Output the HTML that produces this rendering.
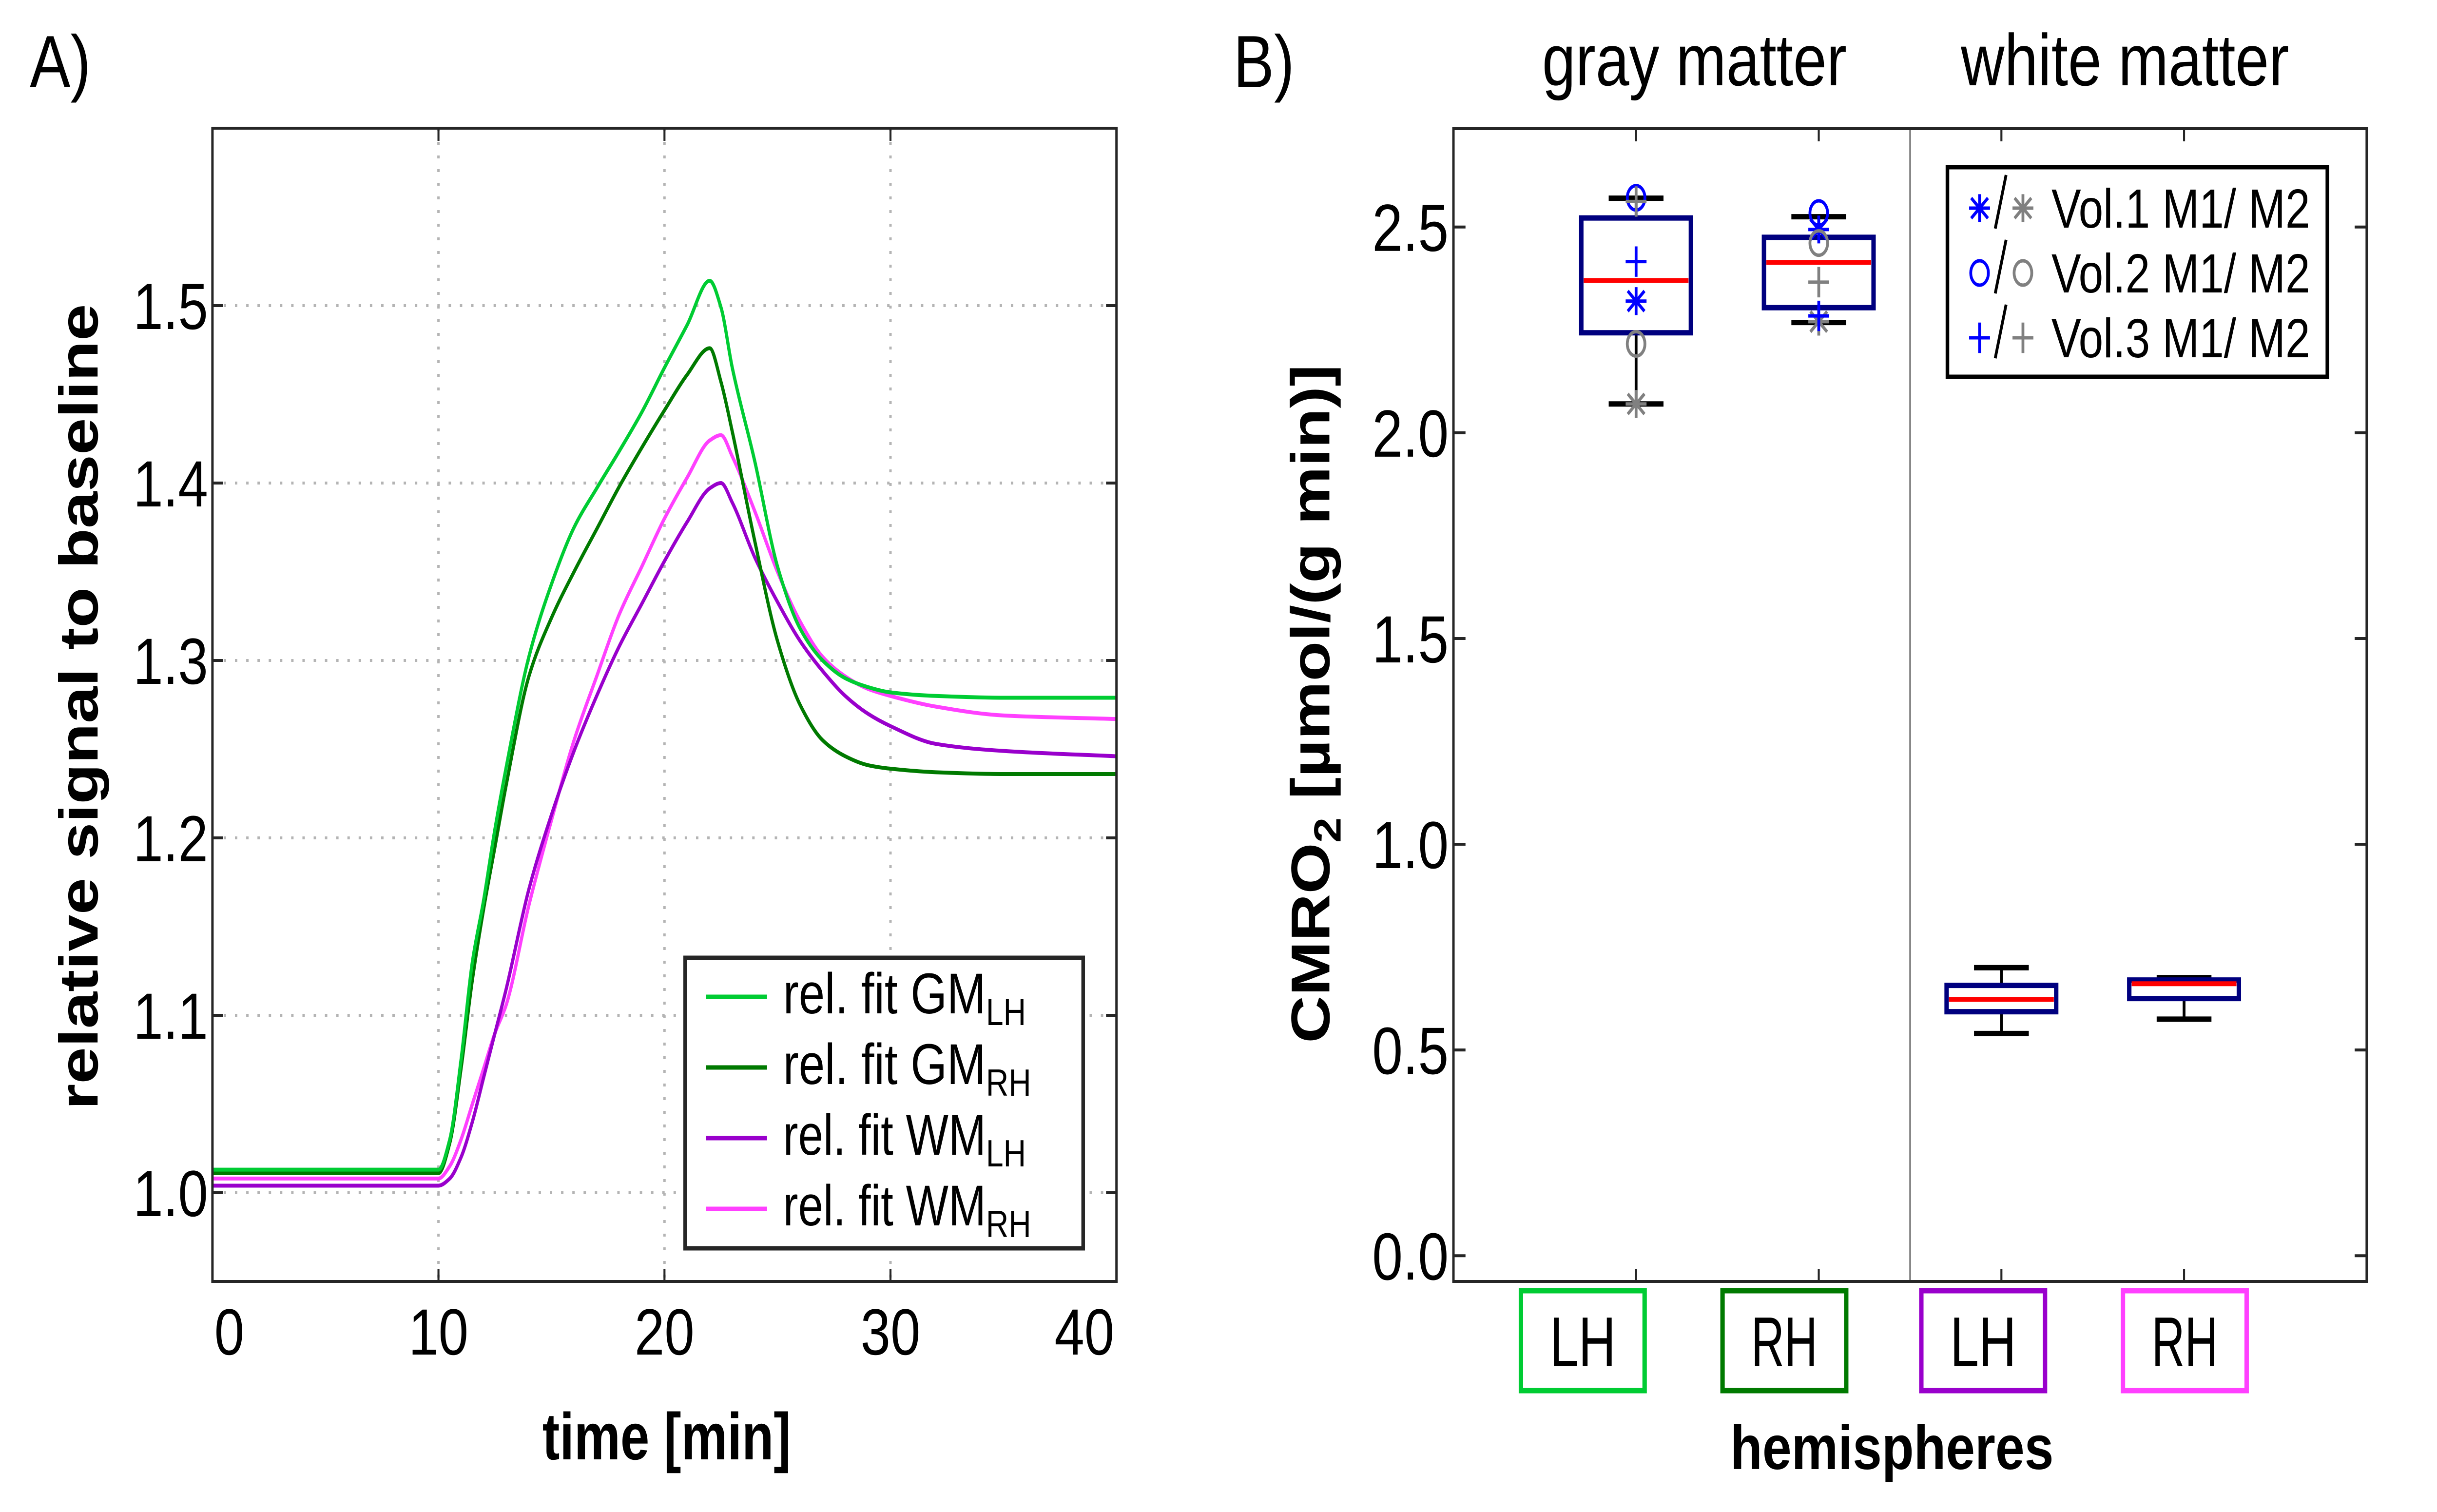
<!DOCTYPE html>
<html><head><meta charset="utf-8"><style>
html,body{margin:0;padding:0;background:#fff;overflow:hidden;width:100%;height:100%;}
svg{display:block;font-family:"Liberation Sans",Arial,sans-serif;width:100vw;height:100vh;}
</style></head><body>
<svg id="fig" viewBox="0 0 6068 3102" preserveAspectRatio="none" xmlns="http://www.w3.org/2000/svg">
<rect width="6068" height="3102" fill="#fff"/>
<text x="74" y="179" font-size="152">A)</text>
<text x="3071" y="179" font-size="152">B)</text>
<text x="4219" y="175" font-size="150" text-anchor="middle">gray matter</text>
<text x="5291" y="175" font-size="150" text-anchor="middle">white matter</text>
<text transform="translate(243,1450) rotate(-90)" font-size="136" font-weight="bold" text-anchor="middle" textLength="1653" lengthAdjust="spacingAndGlyphs">relative signal to baseline</text>
<text x="1660" y="2994" font-size="136" font-weight="bold" text-anchor="middle" textLength="619" lengthAdjust="spacingAndGlyphs">time [min]</text>
<text transform="translate(3310,1444) rotate(-90)" font-size="136" font-weight="bold" text-anchor="middle" textLength="1392" lengthAdjust="spacingAndGlyphs">CMRO<tspan font-size="95" dy="28">2</tspan><tspan dy="-28"> [µmol/(g min)]</tspan></text>
<text x="4711" y="3014" font-size="128" font-weight="bold" text-anchor="middle" textLength="805" lengthAdjust="spacingAndGlyphs">hemispheres</text>
<g id="gA"></g>
<g id="gB"></g>
</svg>
<script>
// ---------- Panel A data ----------
const times = [0,10,10.5,11,11.5,12,12.5,13,14,15,16,17,18,19,20,21,22,22.5,23,24,25,26,27,28,29,30,32,35,40];
const gmLH = [1.013,1.013,1.03,1.075,1.13,1.165,1.205,1.24,1.302,1.343,1.375,1.397,1.418,1.44,1.465,1.489,1.514,1.499,1.465,1.412,1.353,1.318,1.300,1.290,1.285,1.282,1.280,1.279,1.279];
const gmRH = [1.011,1.011,1.028,1.07,1.12,1.16,1.195,1.23,1.291,1.324,1.350,1.374,1.398,1.420,1.441,1.461,1.476,1.457,1.429,1.367,1.311,1.275,1.255,1.246,1.241,1.239,1.237,1.236,1.236];
const wmLH = [1.004,1.004,1.008,1.02,1.04,1.065,1.09,1.115,1.171,1.213,1.249,1.280,1.308,1.332,1.356,1.378,1.397,1.400,1.389,1.358,1.333,1.311,1.294,1.280,1.270,1.263,1.253,1.249,1.246];
const wmRH = [1.008,1.008,1.015,1.03,1.05,1.07,1.09,1.106,1.162,1.21,1.255,1.291,1.326,1.353,1.38,1.403,1.424,1.427,1.415,1.384,1.35,1.322,1.302,1.291,1.284,1.280,1.274,1.269,1.267];
const xTicksA = [0,10,20,30,40];
const yTicksA = [1.0,1.1,1.2,1.3,1.4,1.5];
const yTickLabelsA = ["1.0","1.1","1.2","1.3","1.4","1.5"];
const legendLabelsA = ["GM","GM","WM","WM"];
const legendSubsA = ["LH","RH","LH","RH"];
// ---------- Panel B data ----------
const categories = ["GM LH","GM RH","WM LH","WM RH"];
const catLabels = ["LH","RH","LH","RH"];
const boxQ1 = [2.243,2.304,0.593,0.625];
const boxMedian = [2.37,2.414,0.623,0.661];
const boxQ3 = [2.522,2.475,0.657,0.670];
const whiskLo = [2.07,2.268,0.54,0.575];
const whiskHi = [2.57,2.525,0.70,0.676];
const vol1M1 = [2.32,2.494];
const vol1M2 = [2.07,2.27];
const vol2M1 = [2.571,2.534];
const vol2M2 = [2.216,2.461];
const vol3M1 = [2.416,2.284];
const vol3M2 = [2.562,2.366];
const yTicksB = [0,0.5,1.0,1.5,2.0,2.5];
const yTickLabelsB = ["0.0","0.5","1.0","1.5","2.0","2.5"];

const NS="http://www.w3.org/2000/svg";
function mk(parent,tag,attrs,txt){const e=document.createElementNS(NS,tag);for(const k in attrs)e.setAttribute(k,attrs[k]);if(txt!==undefined)e.textContent=txt;parent.appendChild(e);return e;}

// ---------- Panel A ----------
const gA=document.getElementById('gA');
const A={l:529,r:2780,t:263,b:2629,x0:0,x1:40,y0:0.95,y1:1.6};
const xA=t=>A.l+(t-A.x0)/(A.x1-A.x0)*(A.r-A.l);
const yA=v=>A.b-(v-A.y0)/(A.y1-A.y0)*(A.b-A.t);
xTicksA.forEach((t,i)=>{
  if(t>0&&t<40){
    const g=mk(gA,'line',{x1:xA(t),x2:xA(t),y1:A.t,y2:A.b,stroke:'#b4b4b4','stroke-width':6,'stroke-dasharray':'6 22'});
    
    
  }
  const tk=mk(gA,'path',{d:`M${xA(t)} ${A.b}v-26M${xA(t)} ${A.t}v26`,stroke:'#262626','stroke-width':5});
  
  
  const lx = t===0 ? 571 : (t===40 ? 2700 : xA(t));
  const lb=mk(gA,'text',{x:lx,y:2779,'font-size':134,'text-anchor':'middle'},String(t));
  
  
});
yTicksA.forEach((v,i)=>{
  const g=mk(gA,'line',{x1:A.l,x2:A.r,y1:yA(v),y2:yA(v),stroke:'#b4b4b4','stroke-width':6,'stroke-dasharray':'6 22'});
  
  
  const tk=mk(gA,'path',{d:`M${A.l} ${yA(v)}h26M${A.r} ${yA(v)}h-26`,stroke:'#262626','stroke-width':6});
  
  
  const lb=mk(gA,'text',{x:518,y:yA(v)+48,'font-size':134,'text-anchor':'end'},yTickLabelsA[i]);
  
  
});
// monotone cubic (Fritsch-Carlson) path
function smooth(xs,ys){
  const n=xs.length, d=[], m=new Array(n);
  for(let i=0;i<n-1;i++) d.push((ys[i+1]-ys[i])/(xs[i+1]-xs[i]));
  m[0]=d[0]; m[n-1]=d[n-2];
  for(let i=1;i<n-1;i++){
    if(d[i-1]*d[i]<=0) m[i]=0;
    else { const h0=xs[i]-xs[i-1],h1=xs[i+1]-xs[i]; const w1=2*h1+h0,w2=h1+2*h0; m[i]=(w1+w2)/(w1/d[i-1]+w2/d[i]); }
  }
  let p=`M${xs[0]} ${ys[0]}`;
  for(let i=0;i<n-1;i++){
    const h=xs[i+1]-xs[i];
    p+=`C${xs[i]+h/3} ${ys[i]+m[i]*h/3} ${xs[i+1]-h/3} ${ys[i+1]-m[i+1]*h/3} ${xs[i+1]} ${ys[i+1]}`;
  }
  return p;
}
const seriesA=[[gmLH,'#00cc33','curve-gm-lh'],[gmRH,'#007a00','curve-gm-rh'],[wmLH,'#9900cc','curve-wm-lh'],[wmRH,'#ff40ff','curve-wm-rh']];
[3,2,1,0].forEach(k=>{
  const s=seriesA[k];
  const p=mk(gA,'path',{d:smooth(times.map(xA),s[0].map(yA)),fill:'none',stroke:s[1],'stroke-width':8,'stroke-linejoin':'round'});
  
  
});
const frA=mk(gA,'rect',{x:A.l,y:A.t,width:A.r-A.l,height:A.b-A.t,fill:'none',stroke:'#262626','stroke-width':6});


const lgA=mk(gA,'g',{});


mk(lgA,'rect',{x:1706,y:1965,width:991,height:596,fill:'#fff',stroke:'#262626','stroke-width':9});
const legY=[2045,2190,2335,2480];
seriesA.forEach((s,i)=>{
  const ln=mk(lgA,'line',{x1:1758,x2:1910,y1:legY[i],y2:legY[i],stroke:s[1],'stroke-width':9});
  
  
  const tx=mk(lgA,'text',{x:1950,y:legY[i]+34,'font-size':118});
  
  
  mk(tx,'tspan',{textLength:505,lengthAdjust:'spacingAndGlyphs'},'rel. fit '+legendLabelsA[i]);
  mk(tx,'tspan',{'font-size':78,dy:24},legendSubsA[i]);
});

// ---------- Panel B ----------
const gB=document.getElementById('gB');
const B={l:3619,r:5893,t:264,b:2629,x0:0,x1:5,y0:-0.0625,y1:2.739};
const xB=c=>B.l+(c-B.x0)/(B.x1-B.x0)*(B.r-B.l);
const yB=v=>B.b-(v-B.y0)/(B.y1-B.y0)*(B.b-B.t);
yTicksB.forEach((v,i)=>{
  const tk=mk(gB,'path',{d:`M${B.l} ${yB(v)}h30M${B.r} ${yB(v)}h-30`,stroke:'#262626','stroke-width':6});
  
  
  const lb=mk(gB,'text',{x:3607,y:yB(v)+49,'font-size':137,'text-anchor':'end'},yTickLabelsB[i]);
  
  
});
const div=mk(gB,'line',{x1:xB(2.5),x2:xB(2.5),y1:B.t,y2:B.b,stroke:'#777','stroke-width':4});


categories.forEach((c,i)=>{
  const cx=xB(i+1);
  const tk=mk(gB,'path',{d:`M${cx} ${B.b}v-26M${cx} ${B.t}v26`,stroke:'#262626','stroke-width':5});
  
  
  const g=mk(gB,'g',{});
  
  
  const hw=xB(0.3)-xB(0), cw=xB(0.15)-xB(0);
  mk(g,'line',{x1:cx,x2:cx,y1:yB(whiskHi[i]),y2:yB(boxQ3[i]),stroke:'#000','stroke-width':7});
  mk(g,'line',{x1:cx,x2:cx,y1:yB(boxQ1[i]),y2:yB(whiskLo[i]),stroke:'#000','stroke-width':7});
  mk(g,'line',{x1:cx-cw,x2:cx+cw,y1:yB(whiskHi[i]),y2:yB(whiskHi[i]),stroke:'#000','stroke-width':11});
  mk(g,'line',{x1:cx-cw,x2:cx+cw,y1:yB(whiskLo[i]),y2:yB(whiskLo[i]),stroke:'#000','stroke-width':11});
  mk(g,'rect',{x:cx-hw,y:yB(boxQ3[i]),width:2*hw,height:yB(boxQ1[i])-yB(boxQ3[i]),fill:'none',stroke:'#00007f','stroke-width':11});
  mk(g,'line',{x1:cx-hw+6,x2:cx+hw-6,y1:yB(boxMedian[i]),y2:yB(boxMedian[i]),stroke:'#ff0000','stroke-width':10});
});
function marker(parent,type,x,y,col){
  const s=26;
  let e;
  if(type==='star') e=mk(parent,'path',{d:`M${x-s} ${y}h${2*s}M${x} ${y-s*1.1}v${2.2*s}M${x-s*0.8} ${y-s*0.8}l${1.6*s} ${1.6*s}M${x+s*0.8} ${y-s*0.8}l${-1.6*s} ${1.6*s}`,stroke:col,'stroke-width':7,fill:'none'});
  else if(type==='circle') e=mk(parent,'ellipse',{cx:x,cy:y,rx:22,ry:25,stroke:col,'stroke-width':7,fill:'none'});
  else e=mk(parent,'path',{d:`M${x-s} ${y}h${2*s}M${x} ${y-s*1.2}v${2.4*s}`,stroke:col,'stroke-width':7,fill:'none'});
  return e;
}
const ptSets=[[vol1M1,'star','#0000ff','vol1-m1-point'],[vol1M2,'star','#808080','vol1-m2-point'],[vol2M1,'circle','#0000ff','vol2-m1-point'],[vol2M2,'circle','#808080','vol2-m2-point'],[vol3M1,'plus','#0000ff','vol3-m1-point'],[vol3M2,'plus','#808080','vol3-m2-point']];
ptSets.forEach(ps=>{
  ps[0].forEach((v,i)=>{
    const m=marker(gB,ps[1],xB(i+1),yB(v),ps[2]);
    
    
  });
});
const frB=mk(gB,'rect',{x:B.l,y:B.t,width:B.r-B.l,height:B.b-B.t,fill:'none',stroke:'#262626','stroke-width':6});


const catBoxX=[3781,4283,4778,5280];
const catCols=['#00cc33','#007a00','#9900cc','#ff40ff'];
catLabels.forEach((t,i)=>{
  const g=mk(gB,'g',{});
  
  
  mk(g,'rect',{x:catBoxX[i]+6,y:2648,width:308,height:205,fill:'none',stroke:catCols[i],'stroke-width':11});
  mk(g,'text',{x:catBoxX[i]+160,y:2803,'font-size':145,'text-anchor':'middle',textLength:165,lengthAdjust:'spacingAndGlyphs'},t);
});
const lgB=mk(gB,'g',{});


mk(lgB,'rect',{x:4849,y:343,width:946,height:430,fill:'#fff',stroke:'#000','stroke-width':9});
const lgTypes=['star','circle','plus'];
const lgText=['Vol.1 M1/ M2','Vol.2 M1/ M2','Vol.3 M1/ M2'];
const lgY=[427,560,693];
lgTypes.forEach((ty,i)=>{
  const e=mk(lgB,'g',{});
  
  
  marker(e,ty,4929,lgY[i],'#0000ff');
  mk(e,'line',{x1:4995,x2:4968,y1:lgY[i]-68,y2:lgY[i]+42,stroke:'#000','stroke-width':7});
  marker(e,ty,5037,lgY[i],'#808080');
  mk(e,'text',{x:5108,y:lgY[i]+40,'font-size':113,textLength:644,lengthAdjust:'spacingAndGlyphs'},lgText[i]);
});
</script>
</body></html>
